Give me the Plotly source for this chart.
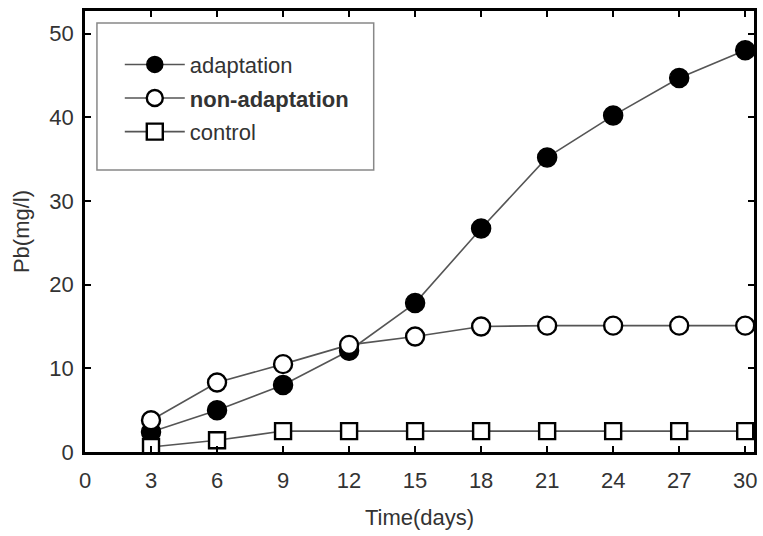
import plotly.graph_objects as go

days = [3, 6, 9, 12, 15, 18, 21, 24, 27, 30]
adaptation = [2.4, 5.0, 8.0, 12.1, 17.8, 26.7, 35.2, 40.2, 44.7, 48.0]
non_adaptation = [3.8, 8.3, 10.5, 12.8, 13.8, 15.0, 15.1, 15.1, 15.1, 15.1]
control = [0.6, 1.4, 2.5, 2.5, 2.5, 2.5, 2.5, 2.5, 2.5, 2.5]
x_ticks = [0, 3, 6, 9, 12, 15, 18, 21, 24, 27, 30]
y_ticks = [0, 10, 20, 30, 40, 50]

FONT = "Liberation Sans, Arial, sans-serif"
TXT = "#333333"
LINE = "#555555"

fig = go.Figure()
fig.add_trace(go.Scatter(
    x=days, y=adaptation, name="adaptation", mode="lines+markers",
    line=dict(color=LINE, width=1.6),
    marker=dict(symbol="circle", size=19, color="black", line=dict(color="black", width=1.5)),
    legendgroup="a"))
fig.add_trace(go.Scatter(
    x=days, y=non_adaptation, name="<b>non-adaptation</b>", mode="lines+markers",
    line=dict(color=LINE, width=1.6),
    marker=dict(symbol="circle", size=18, color="white", line=dict(color="black", width=2.4)),
    legendgroup="b"))
fig.add_trace(go.Scatter(
    x=days, y=control, name="control", mode="lines+markers",
    line=dict(color=LINE, width=1.6),
    marker=dict(symbol="square", size=16, color="white", line=dict(color="black", width=2.4)),
    legendgroup="c"))

axis_common = dict(
    showline=True, linecolor="black", linewidth=2.5, mirror="ticks",
    ticks="inside", ticklen=6, tickwidth=2, tickcolor="black",
    showgrid=False, zeroline=False,
    tickfont=dict(family=FONT, size=22, color=TXT),
)

fig.update_layout(
    width=763, height=536,
    margin=dict(l=85, r=6, t=11, b=84),
    plot_bgcolor="white", paper_bgcolor="white",
    xaxis=dict(range=[0, 30.4], tickvals=x_ticks, ticktext=[str(v) for v in x_ticks],
               title=dict(text="Time(days)", font=dict(family=FONT, size=22, color=TXT), standoff=18),
               ticklabelstandoff=7, **axis_common),
    yaxis=dict(range=[0, 52.7], tickvals=y_ticks, ticktext=[str(v) for v in y_ticks],
               title=dict(text="Pb(mg/l)", font=dict(family=FONT, size=22, color=TXT), standoff=14),
               ticklabelstandoff=4, **axis_common),
    legend=dict(x=0.052, y=0.926, xanchor="left", yanchor="top",
                bgcolor="rgba(255,255,255,0)", borderwidth=0,
                font=dict(family=FONT, size=22, color=TXT),
                tracegroupgap=2, itemwidth=60),
    showlegend=True,
    shapes=[dict(type="rect", xref="paper", yref="paper",
                 x0=(97 - 85) / 672, x1=(375 - 85) / 672,
                 y0=(452 - 170) / 441, y1=(452 - 23) / 441,
                 line=dict(color="#888888", width=1.5), fillcolor="white", layer="below")],
)

fig.write_html("out.html", config={"displayModeBar": False},
               post_script="document.body.style.margin='0';document.body.style.overflow='hidden';")
